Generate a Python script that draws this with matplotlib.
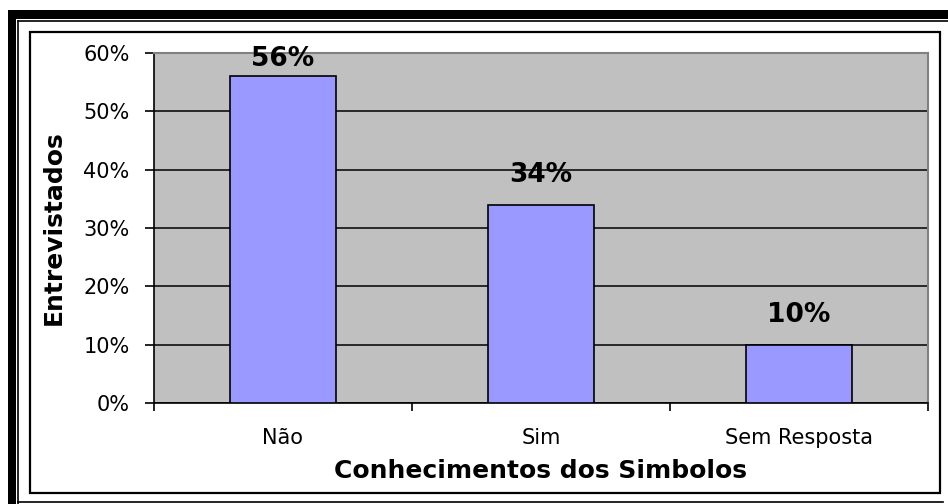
import matplotlib
matplotlib.use("Agg")
import matplotlib.pyplot as plt
from matplotlib.patches import Rectangle
from matplotlib.lines import Line2D
from matplotlib.ticker import FuncFormatter

categories = ["Não", "Sim", "Sem Resposta"]
values = [0.56, 0.34, 0.10]
value_labels = ["56%", "34%", "10%"]
yticks = [0.0, 0.1, 0.2, 0.3, 0.4, 0.5, 0.6]

W, H = 948, 504
plt.rcParams['font.family'] = ['DejaVu Sans']

fig = plt.figure(figsize=(W / 100, H / 100), dpi=100)
fig.patch.set_facecolor('white')


def px_rect(x0, y0, x1, y1, **kw):
    # pixel box (y from top) -> figure fraction rectangle
    return Rectangle((x0 / W, 1 - y1 / H), (x1 - x0) / W, (y1 - y0) / H,
                     transform=fig.transFigure, **kw)


def px_line(x0, y0, x1, y1, lw):
    return Line2D([x0 / W, x1 / W], [1 - y0 / H, 1 - y1 / H],
                  transform=fig.transFigure, color='black', lw=lw)


# frame around the chart (double border, cropped at right)
fig.add_artist(px_rect(8, 10, 948, 19, facecolor='black', edgecolor='none'))
fig.add_artist(px_rect(8, 10, 16, 504, facecolor='black', edgecolor='none'))
fig.add_artist(px_line(18, 21, 948, 21, 1.2))
fig.add_artist(px_line(18, 21, 18, 504, 1.2))
fig.add_artist(px_line(18, 502, 943, 502, 1.2))
fig.add_artist(px_rect(30, 32, 940, 493, facecolor='none', edgecolor='black', lw=1.6))

ax = fig.add_axes([154 / W, 1 - 403 / H, (928 - 154) / W, (403 - 53) / H])
ax.set_facecolor('#C0C0C0')

x = list(range(len(categories)))
ax.bar(x, values, width=0.41, color='#9999FF', edgecolor='black', linewidth=1.2, zorder=3)

for xi, v, lab in zip(x, values, value_labels):
    ax.text(xi, min(v + 0.05, 0.59), lab, ha='center', va='center',
            fontsize=19, fontweight='bold', zorder=4)

ax.set_xlim(-0.5, len(categories) - 0.5)
ax.set_ylim(0, 0.6)
ax.set_yticks(yticks)
ax.yaxis.set_major_formatter(FuncFormatter(lambda v, p: f"{v * 100:.0f}%"))
ax.yaxis.grid(True, color='black', lw=1.1)
ax.set_axisbelow(True)

# category boundaries as tick marks, names as minor ticks
ax.set_xticks([i - 0.5 for i in range(len(categories) + 1)])
ax.set_xticklabels([])
ax.set_xticks(x, minor=True)
ax.set_xticklabels(categories, minor=True)
ax.tick_params(axis='x', which='major', direction='out', length=6, width=1.2)
ax.tick_params(axis='x', which='minor', length=0, pad=18, labelsize=15)
ax.tick_params(axis='y', direction='out', length=6.5, width=1.2, pad=11, labelsize=15)

for s in ['left', 'bottom']:
    ax.spines[s].set_color('black')
    ax.spines[s].set_linewidth(1.2)
for s in ['top', 'right']:
    ax.spines[s].set_color('#808080')
    ax.spines[s].set_linewidth(1.5)

ax.set_xlabel("Conhecimentos dos Simbolos", fontsize=18, fontweight='bold')
ax.xaxis.set_label_coords(0.5, (403 - 471) / 350)
ax.xaxis.label.set_va('center')
ax.set_ylabel("Entrevistados", fontsize=18, fontweight='bold')
ax.yaxis.set_label_coords((54 - 154) / 774, 0.5)
ax.yaxis.label.set_va('center')

fig.savefig('out.png', dpi=100)
